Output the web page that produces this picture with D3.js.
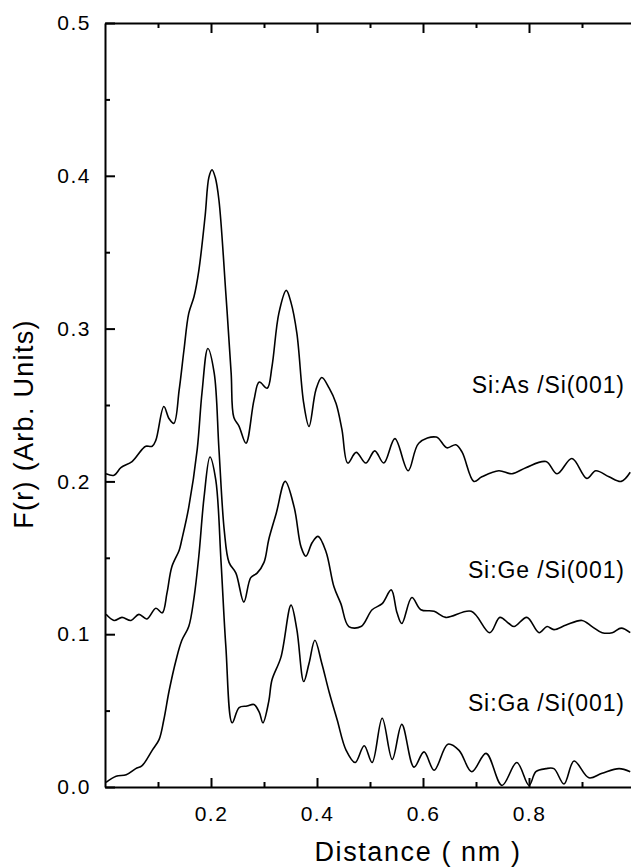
<!DOCTYPE html>
<html lang="en">
<head>
<meta charset="utf-8">
<title>F(r) vs distance</title>
<script src="https://d3js.org/d3.v7.min.js"></script>
<style>
  body { margin: 0; background: #fff; }
  svg { display: block; font-family: "Liberation Sans", Arial, Helvetica, sans-serif; }
</style>
</head>
<body>
<div id="chart"></div>
<script>
// series: [distance (nm), F(r)]
var siAs = [
  [0.002,0.205],[0.017,0.204],[0.030,0.209],[0.051,0.213],[0.070,0.221],[0.077,0.223],[0.089,0.223],
  [0.096,0.227],[0.111,0.249],[0.121,0.241],[0.130,0.238],[0.140,0.260],[0.149,0.286],[0.158,0.310],
  [0.168,0.321],[0.177,0.338],[0.189,0.374],[0.196,0.399],[0.202,0.404],[0.208,0.399],[0.215,0.384],
  [0.228,0.323],[0.238,0.271],[0.243,0.242],[0.253,0.236],[0.266,0.225],[0.281,0.253],[0.291,0.265],
  [0.306,0.261],[0.315,0.275],[0.328,0.310],[0.342,0.325],[0.351,0.317],[0.362,0.297],[0.375,0.251],
  [0.385,0.236],[0.398,0.260],[0.409,0.268],[0.423,0.261],[0.436,0.251],[0.447,0.234],[0.458,0.212],
  [0.474,0.219],[0.492,0.212],[0.509,0.220],[0.526,0.212],[0.547,0.228],[0.572,0.207],[0.592,0.225],
  [0.625,0.229],[0.645,0.222],[0.662,0.224],[0.674,0.219],[0.696,0.200],[0.711,0.203],[0.743,0.207],
  [0.768,0.205],[0.794,0.209],[0.832,0.213],[0.853,0.205],[0.881,0.215],[0.909,0.202],[0.926,0.207],
  [0.951,0.203],[0.974,0.200],[0.991,0.206]
];
var siGe = [
  [0.002,0.113],[0.017,0.109],[0.032,0.111],[0.049,0.109],[0.064,0.113],[0.079,0.110],[0.096,0.117],
  [0.108,0.114],[0.117,0.127],[0.126,0.144],[0.140,0.155],[0.145,0.162],[0.158,0.183],[0.174,0.221],
  [0.183,0.258],[0.194,0.287],[0.206,0.271],[0.215,0.221],[0.225,0.168],[0.234,0.147],[0.247,0.140],
  [0.262,0.121],[0.275,0.137],[0.287,0.140],[0.300,0.147],[0.309,0.162],[0.323,0.179],[0.340,0.200],
  [0.357,0.183],[0.370,0.157],[0.379,0.151],[0.391,0.160],[0.402,0.164],[0.417,0.154],[0.432,0.131],
  [0.445,0.120],[0.460,0.105],[0.483,0.105],[0.504,0.116],[0.523,0.120],[0.540,0.129],[0.551,0.114],
  [0.560,0.107],[0.579,0.124],[0.596,0.116],[0.621,0.115],[0.643,0.111],[0.691,0.115],[0.726,0.101],
  [0.745,0.111],[0.762,0.107],[0.772,0.105],[0.796,0.111],[0.819,0.101],[0.834,0.105],[0.847,0.103],
  [0.870,0.106],[0.900,0.109],[0.919,0.105],[0.938,0.101],[0.957,0.101],[0.974,0.104],[0.991,0.101]
];
var siGa = [
  [0.002,0.003],[0.021,0.007],[0.040,0.008],[0.058,0.012],[0.070,0.014],[0.089,0.024],[0.102,0.031],
  [0.111,0.044],[0.121,0.063],[0.134,0.083],[0.145,0.096],[0.158,0.105],[0.168,0.124],[0.177,0.151],
  [0.187,0.190],[0.198,0.216],[0.209,0.201],[0.219,0.147],[0.228,0.092],[0.240,0.042],[0.253,0.052],
  [0.268,0.053],[0.281,0.054],[0.291,0.049],[0.298,0.042],[0.309,0.056],[0.315,0.070],[0.332,0.085],
  [0.351,0.119],[0.362,0.103],[0.375,0.069],[0.385,0.081],[0.396,0.096],[0.409,0.081],[0.423,0.062],
  [0.438,0.044],[0.455,0.024],[0.472,0.016],[0.489,0.027],[0.504,0.016],[0.523,0.045],[0.542,0.018],
  [0.560,0.041],[0.583,0.013],[0.602,0.023],[0.621,0.011],[0.647,0.028],[0.668,0.024],[0.692,0.010],
  [0.719,0.022],[0.749,0.001],[0.777,0.016],[0.800,0.001],[0.813,0.010],[0.832,0.012],[0.847,0.012],
  [0.866,0.002],[0.885,0.017],[0.913,0.006],[0.938,0.009],[0.970,0.012],[0.991,0.010]
];
var seriesNames = ["Si:As /Si(001)", "Si:Ge /Si(001)", "Si:Ga /Si(001)"];
var xTickValues = [0.2, 0.4, 0.6, 0.8];
var yTickValues = [0.0, 0.1, 0.2, 0.3, 0.4, 0.5];

var W = 631, H = 868;
var plotLeft = 105, plotTop = 23, plotBottom = 787;

var x = d3.scaleLinear().domain([0, 1]).range([plotLeft, plotLeft + 530]);
var y = d3.scaleLinear().domain([0, 0.5]).range([plotBottom, plotTop]);

var svg = d3.select("#chart").append("svg")
    .attr("width", W)
    .attr("height", H);

// minor ticks first, then major axes on top
var xMinor = [0.1, 0.3, 0.5, 0.7, 0.9];
var yMinor = [0.05, 0.15, 0.25, 0.35, 0.45];

svg.append("g")
    .attr("transform", "translate(0," + plotBottom + ")")
    .call(d3.axisBottom(x).tickValues(xMinor).tickSize(-5).tickFormat(""))
    .call(function (g) { g.select(".domain").remove() })
svg.append("g")
    .attr("transform", "translate(0," + plotTop + ")")
    .call(d3.axisTop(x).tickValues(xMinor).tickSize(-5).tickFormat(""))
    .call(function (g) { g.select(".domain").remove() })
svg.append("g")
    .attr("transform", "translate(" + plotLeft + ",0)")
    .call(d3.axisLeft(y).tickValues(yMinor).tickSize(-5).tickFormat(""))
    .call(function (g) { g.select(".domain").remove() })

svg.append("g")
    .attr("transform", "translate(0," + plotBottom + ")")
    .call(d3.axisBottom(x).tickValues(xTickValues).tickSize(-9).tickSizeOuter(0)
        .tickPadding(19).tickFormat(d3.format(".1f")))
svg.append("g")
    .attr("transform", "translate(0," + plotTop + ")")
    .call(d3.axisTop(x).tickValues(xTickValues).tickSize(-10).tickSizeOuter(0).tickFormat(""))
svg.append("g")
    .attr("transform", "translate(" + plotLeft + ",0)")
    .call(d3.axisLeft(y).tickValues(yTickValues).tickSize(-10).tickSizeOuter(0)
        .tickPadding(14).tickFormat(d3.format(".1f")))

svg.selectAll(".domain").attr("stroke", "#000").attr("stroke-width", 2)
svg.selectAll(".tick line").attr("stroke", "#000").attr("stroke-width", 2)
svg.selectAll(".tick text")
    .attr("fill", "#000")
    .style("font-size", "21px")
    .style("letter-spacing", "1.5px")

// curves
var line = d3.line()
    .x(function (d) { return x(d[0]) })
    .y(function (d) { return y(d[1]) })
    .curve(d3.curveCatmullRom.alpha(0.5))

svg.selectAll(".curve")
    .data([siAs, siGe, siGa])
    .enter()
    .append("path")
    .attr("class", "curve")
    .attr("d", line)
    .attr("fill", "none")
    .attr("stroke", "#000")
    .attr("stroke-width", 1.6)

// series labels
var labelY = [0.258, 0.137, 0.050];
svg.selectAll(".lbl")
    .data(seriesNames)
    .enter()
    .append("text")
    .attr("class", "lbl")
    .attr("x", x(0.981))
    .attr("y", function (d, i) { return y(labelY[i]) })
    .attr("text-anchor", "end")
    .style("font-size", "23px")
    .style("letter-spacing", "0.9px")
    .text(function (d) { return d })

// axis titles
svg.append("text")
    .attr("x", 418)
    .attr("y", 861)
    .attr("text-anchor", "middle")
    .style("font-size", "27px")
    .style("letter-spacing", "1.6px")
    .text("Distance ( nm )")

svg.append("text")
    .attr("transform", "translate(33,424) rotate(-90)")
    .attr("text-anchor", "middle")
    .style("font-size", "27px")
    .style("letter-spacing", "1.3px")
    .text("F(r) (Arb. Units)")
</script>
</body>
</html>
